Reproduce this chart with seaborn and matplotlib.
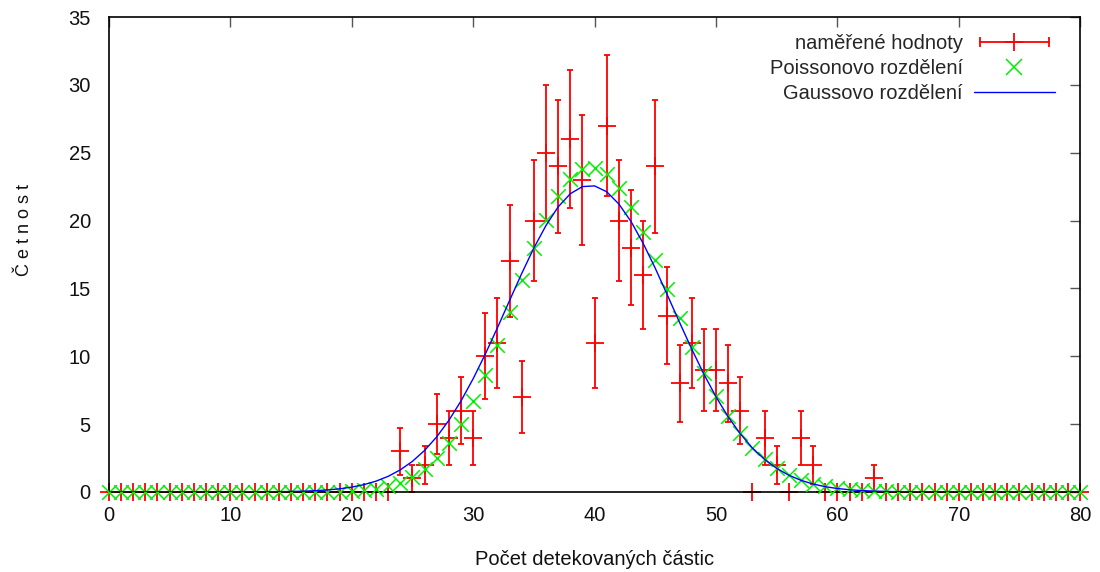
import numpy as np
import pandas as pd
import matplotlib
matplotlib.use('Agg')
import matplotlib.pyplot as plt
import seaborn as sns
from matplotlib.lines import Line2D
from matplotlib.legend_handler import HandlerLine2D

# pocet detekovanych castic (0..80)
pocet = list(range(81))

# namerene cetnosti
namerene = ([0] * 24
            + [3, 1, 2, 5, 4, 6, 4, 10, 11, 17, 7, 20, 25, 24, 26, 23,
               11, 27, 20, 18, 16, 24, 13, 8, 11, 9, 9, 8, 6, 0, 4, 2,
               0, 4, 2, 0, 0, 0, 0, 1]
            + [0] * 17)

# Poissonovo rozdeleni
poisson = ([0] * 17
           + [0.01, 0.02, 0.03, 0.07, 0.13, 0.23, 0.40, 0.68, 1.09, 1.68,
              2.50, 3.59, 4.98, 6.67, 8.65, 10.86, 13.23, 15.65, 17.97, 20.07,
              21.81, 23.07, 23.78, 23.90, 23.43, 22.43, 20.97, 19.16, 17.12, 14.96,
              12.80, 10.72, 8.79, 7.07, 5.57, 4.31, 3.27, 2.43, 1.78, 1.28,
              0.90, 0.62, 0.43, 0.29, 0.19, 0.12, 0.08, 0.05, 0.03, 0.02, 0.01]
           + [0] * 13)

# Gaussovo rozdeleni
gauss = ([0] * 12
         + [0.005, 0.01, 0.018, 0.032, 0.055, 0.09, 0.146, 0.23, 0.355, 0.536,
            0.793, 1.148, 1.626, 2.255, 3.058, 4.059, 5.275, 6.705, 8.342, 10.157,
            12.10, 14.11, 16.10, 17.98, 19.64, 21.01, 21.98, 22.51, 22.56, 22.13,
            21.23, 19.94, 18.33, 16.49, 14.51, 12.50, 10.54, 8.69, 7.02, 5.54,
            4.29, 3.24, 2.40, 1.739, 1.233, 0.856, 0.581, 0.386, 0.251, 0.16,
            0.099, 0.061, 0.036, 0.021, 0.012, 0.007]
         + [0] * 13)

df = pd.DataFrame({'x': pocet, 'namerene': namerene,
                   'poisson': poisson, 'gauss': gauss})
df['chyba'] = np.sqrt(df['namerene'])

sns.set_theme(style='white')
plt.rcParams['font.family'] = ['Liberation Sans', 'DejaVu Sans']
fs = 14.5

fig = plt.figure(figsize=(11, 5.72), dpi=100)
ax = fig.add_axes([0.099, 0.14, 0.883, 0.83])

red, green, blue = '#ff0000', '#00ee00', '#0000ff'

ax.errorbar(df['x'], df['namerene'], yerr=df['chyba'], fmt='+', color=red,
            markersize=13, markeredgewidth=1.3, elinewidth=1.3, capsize=2.5,
            capthick=1.3, clip_on=False, zorder=2)
sns.scatterplot(data=df, x='x', y='poisson', marker='x', color=green, s=110,
                linewidth=1.1, ax=ax, clip_on=False, zorder=3, legend=False)
sns.lineplot(data=df, x='x', y='gauss', color=blue, linewidth=1.0, ax=ax,
             zorder=4, legend=False)

ax.set_xlim(0, 80)
ax.set_ylim(0, 35)
ax.set_xticks(range(0, 81, 10))
ax.set_yticks(range(0, 36, 5))
for s in ax.spines.values():
    s.set_color('black')
    s.set_linewidth(1.2)
ax.tick_params(direction='in', top=True, right=True, length=7, width=1,
               color='#555555', labelsize=fs, labelcolor='#111111')
ax.tick_params(axis='y', pad=13)
ax.tick_params(axis='x', pad=10)

ax.set_xlabel('Počet detekovaných částic', fontsize=fs, color='#111111', labelpad=18)
ax.set_ylabel('Č e t n o s t', fontsize=13, color='#111111')
ax.yaxis.set_label_coords(-0.078, 0.552)

# legend like gnuplot: label first, sample after
h_bar = Line2D([], [], color=red, linewidth=1.3, marker='|', markersize=7,
               markeredgewidth=1.3)
h_plus = Line2D([], [], color=red, linestyle='none', marker='+', markersize=13,
                markeredgewidth=1.3)
h_x = Line2D([], [], color=green, linestyle='none', marker='x', markersize=11,
             markeredgewidth=1.1)
h_line = Line2D([], [], color=blue, linewidth=1.0)
ax.legend([(h_bar, h_plus), h_x, h_line],
          ['naměřené hodnoty', 'Poissonovo rozdělení', 'Gaussovo rozdělení'],
          handler_map={h_bar: HandlerLine2D(numpoints=2)},
          loc='upper right', bbox_to_anchor=(0.984, 0.985), frameon=False,
          markerfirst=False, handlelength=4.0, handletextpad=0.55,
          labelspacing=0.3, borderpad=0, fontsize=fs, numpoints=1)

fig.savefig('out.png', dpi=100)
